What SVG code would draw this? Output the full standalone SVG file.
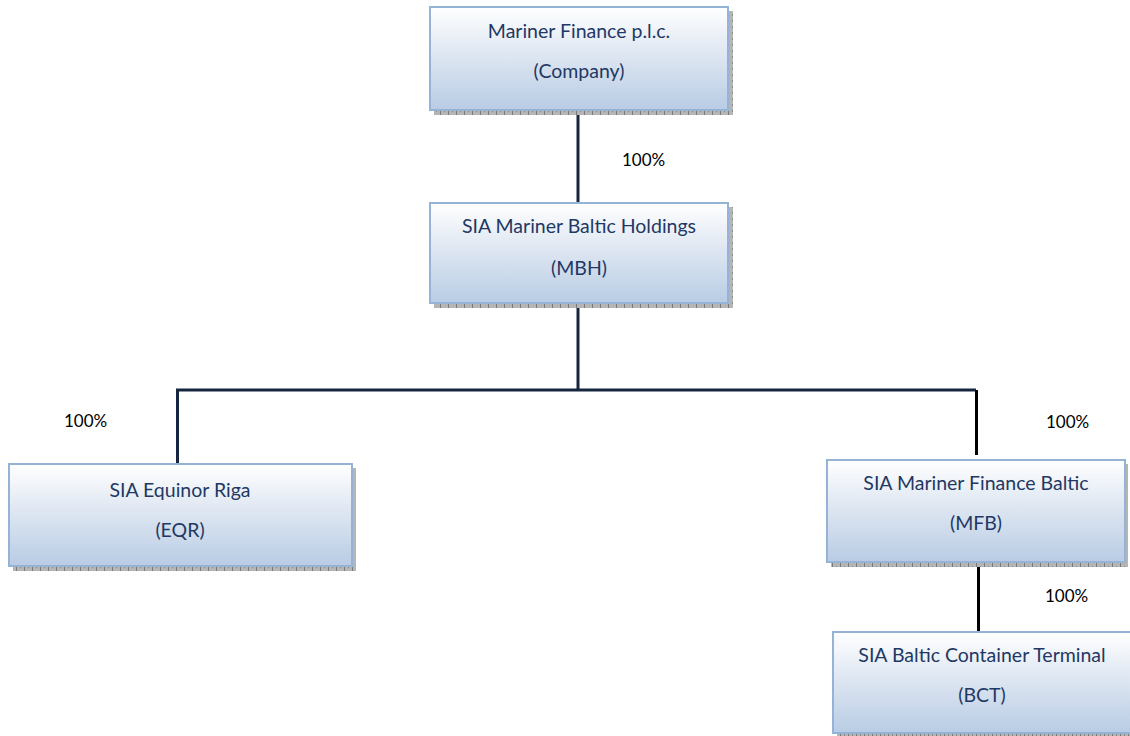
<svg xmlns="http://www.w3.org/2000/svg" width="1130" height="736" viewBox="0 0 1130 736">
  <defs>
    <linearGradient id="boxFill" x1="0" y1="0" x2="0" y2="1">
      <stop offset="0" stop-color="#ffffff"/>
      <stop offset="0.45" stop-color="#dfe7f2"/>
      <stop offset="1" stop-color="#b8cce4"/>
    </linearGradient>
    <pattern id="hatch" width="8" height="6" patternUnits="userSpaceOnUse">
      <rect width="8" height="6" fill="#b5b5b5"/>
      <rect x="0" y="0" width="1" height="6" fill="#7a7a7a"/>
      <rect x="4" y="2" width="1" height="2" fill="#8c8c8c"/>
    </pattern>
  </defs>
  <style>
    .shadow { fill: url(#hatch); }
    .box { fill: url(#boxFill); stroke: #95b3d7; stroke-width: 2; }
    .lbl { font-family: Lato, "Liberation Sans", sans-serif; font-size: 19.5px; fill: #1f3864; text-anchor: middle; }
    .pct { font-family: Lato, "Liberation Sans", sans-serif; font-size: 17px; fill: #000000; }
    .conn { fill: none; stroke-width: 3; stroke-linecap: butt; }
    .navy { stroke: #17263f; }
    .black { stroke: #000000; }
  </style>
  <rect width="1130" height="736" fill="#ffffff"/>

  <g id="connectors">
    <line class="conn navy" x1="578" y1="112" x2="578" y2="202"/>
    <line class="conn navy" x1="578" y1="306" x2="578" y2="391"/>
    <polyline class="conn navy" points="177.5,463 177.5,390 976,390"/>
    <line class="conn black" x1="976.5" y1="390" x2="976.5" y2="455"/>
    <line class="conn black" x1="978.5" y1="565" x2="978.5" y2="631"/>
  </g>

  <g id="labels">
    <text class="pct" x="622" y="166">100%</text>
    <text class="pct" x="64" y="427">100%</text>
    <text class="pct" x="1046" y="428">100%</text>
    <text class="pct" x="1045" y="602">100%</text>
  </g>

  <g id="company">
    <rect class="shadow" x="434" y="11" width="299" height="104"/>
    <rect class="box" x="430" y="7" width="298" height="103"/>
    <text class="lbl" x="579" y="38">Mariner Finance p.l.c.</text>
    <text class="lbl" x="579" y="78">(Company)</text>
  </g>

  <g id="mbh">
    <rect class="shadow" x="434" y="207" width="299" height="101"/>
    <rect class="box" x="430" y="203" width="298" height="100"/>
    <text class="lbl" x="579" y="233">SIA Mariner Baltic Holdings</text>
    <text class="lbl" x="579" y="275">(MBH)</text>
  </g>

  <g id="eqr">
    <rect class="shadow" x="13" y="468" width="343" height="103"/>
    <rect class="box" x="9" y="464" width="343" height="102"/>
    <text class="lbl" x="180" y="497">SIA Equinor Riga</text>
    <text class="lbl" x="180" y="537">(EQR)</text>
  </g>

  <g id="mfb">
    <rect class="shadow" x="831" y="464" width="297" height="103"/>
    <rect class="box" x="827" y="460" width="298" height="102"/>
    <text class="lbl" x="976" y="490">SIA Mariner Finance Baltic</text>
    <text class="lbl" x="976" y="530">(MFB)</text>
  </g>

  <g id="bct">
    <rect class="shadow" x="837" y="636" width="300" height="103"/>
    <rect class="box" x="833" y="632" width="300" height="101"/>
    <text class="lbl" x="982" y="662">SIA Baltic Container Terminal</text>
    <text class="lbl" x="982" y="702">(BCT)</text>
  </g>
</svg>
